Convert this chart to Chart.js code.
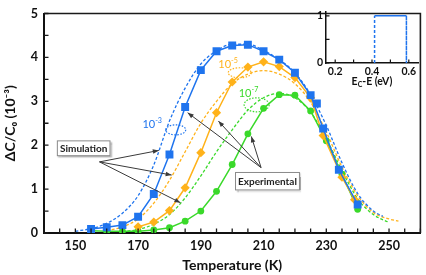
<!DOCTYPE html>
<html><head><meta charset="utf-8">
<script src="https://cdn.jsdelivr.net/npm/chart.js@4.4.0/dist/chart.umd.min.js"></script>
<style>
html,body{margin:0;padding:0;background:#fff;}
#wrap{position:relative;width:426px;height:275px;overflow:hidden;}
#main{position:absolute;left:0;top:0;}
#inset{position:absolute;left:298px;top:0;}
</style></head><body>
<div id="wrap"><canvas id="main" width="426" height="275"></canvas><canvas id="inset" width="126" height="92"></canvas></div>
<script>
// ---------- data ----------
const blueExpT   = [155,160,165,170,175,180,185,190,195,200,205,210,215,220,225,229,234,240];
const blueExp    = [0.09,0.13,0.18,0.37,0.89,1.79,2.87,3.71,4.14,4.27,4.29,4.14,3.95,3.65,3.14,2.38,1.44,0.65];
const blueExtraT = [227];
const blueExtra  = [2.95];
const orangeExpT = [170,175,180,185,190,195,200,205,210,215,220,225,229,235,239];
const orangeExp  = [0.14,0.25,0.51,1.03,1.83,2.74,3.44,3.78,3.90,3.79,3.54,3.08,2.22,1.27,0.76];
const greenExpT  = [155,160,165,170,175,180,185,190,195,200,205,210,215,220,225,230,235,240];
const greenExp   = [0.05,0.04,0.04,0.04,0.07,0.12,0.27,0.50,0.95,1.56,2.26,2.84,3.15,3.14,2.78,2.10,1.34,0.54];

const blueSimT   = [150,155,160,165,170,175,180,185,190,195,200,205,210,215,220,225,230,235,240,245,248];
const blueSim    = [0.04,0.10,0.22,0.45,0.85,1.55,2.55,3.30,3.85,4.15,4.30,4.30,4.16,3.95,3.65,3.15,2.45,1.60,0.90,0.50,0.38];
const orangeSimT = [160,165,170,175,180,185,190,195,200,205,210,215,220,225,230,235,240,245,250,253];
const orangeSim  = [0.05,0.14,0.32,0.68,1.20,1.85,2.50,3.00,3.40,3.62,3.70,3.62,3.40,2.98,2.30,1.50,0.85,0.47,0.32,0.27];
const greenSimT  = [165,170,175,180,185,190,195,200,205,210,215,220,225,230,235,240,245,250];
const greenSim   = [0.03,0.08,0.20,0.42,0.80,1.30,1.85,2.35,2.80,3.08,3.18,3.08,2.75,2.15,1.42,0.78,0.42,0.24];

const xTicks  = [140,145,150,155,160,165,170,175,180,185,190,195,200,205,210,215,220,225,230,235,240,245,250,255,260];
const xLabels = [150,170,190,210,230,250];
const yTicks  = [0,0.5,1,1.5,2,2.5,3,3.5,4,4.5,5];
const yLabels = [0,1,2,3,4,5];

// inset: trap-level distribution
const insetX = [0.414,0.414,0.587,0.587];
const insetY = [0,1,1,0];
const insetXTicks = [0.2,0.3,0.4,0.5,0.6];
const insetXLabels = [0.2,0.4,0.6];
const insetYTicks = [0,0.5,1];
const insetYLabels = [0,1];

// ---------- style ----------
const BLUE='#1f74ee', ORANGE='#ffb21a', GREEN='#3ad92a';
const FONT="Lato, 'DejaVu Sans', sans-serif";
const pts=(xs,ys)=>xs.map((x,i)=>({x:x,y:ys[i]}));

function expDs(label,xs,ys,color,style,r){
  return {label,data:pts(xs,ys),borderColor:color,backgroundColor:color,borderWidth:1.5,
    pointStyle:style,pointRadius:r,pointBorderWidth:0,tension:0,showLine:true};
}
function simDs(label,xs,ys,color){
  return {label,data:pts(xs,ys),borderColor:color,borderWidth:1.3,borderDash:[3,2],
    pointRadius:0,cubicInterpolationMode:'monotone',showLine:true};
}

function sup(ctx,base,exp,x,y,color,size){
  ctx.fillStyle=color; ctx.font=`${size}px ${FONT}`; ctx.textBaseline='middle'; ctx.textAlign='left';
  const w=ctx.measureText(base).width;
  const w2=(()=>{ctx.font=`${size*0.65}px ${FONT}`;return ctx.measureText(exp).width;})();
  const x0=x-(w+w2)/2;
  ctx.font=`${size}px ${FONT}`; ctx.fillText(base,x0,y);
  ctx.font=`${size*0.65}px ${FONT}`; ctx.fillText(exp,x0+w,y-size*0.35);
}
function arrow(ctx,x1,y1,x2,y2){
  ctx.beginPath(); ctx.moveTo(x1,y1); ctx.lineTo(x2,y2); ctx.stroke();
  const a=Math.atan2(y2-y1,x2-x1), L=6, W=2.3;
  ctx.beginPath();
  ctx.moveTo(x2,y2);
  ctx.lineTo(x2-L*Math.cos(a)+W*Math.sin(a), y2-L*Math.sin(a)-W*Math.cos(a));
  ctx.lineTo(x2-L*Math.cos(a)-W*Math.sin(a), y2-L*Math.sin(a)+W*Math.cos(a));
  ctx.closePath(); ctx.fill();
}
function labelBox(ctx,x1,y1,x2,y2,text){
  ctx.save();
  ctx.shadowColor='rgba(0,0,0,0.35)'; ctx.shadowOffsetX=1.5; ctx.shadowOffsetY=1.5; ctx.shadowBlur=1.5;
  ctx.fillStyle='#fff'; ctx.fillRect(x1,y1,x2-x1,y2-y1);
  ctx.restore();
  ctx.strokeStyle='#8a8a8a'; ctx.lineWidth=1; ctx.strokeRect(x1+0.5,y1+0.5,x2-x1-1,y2-y1-1);
  ctx.fillStyle='#222'; ctx.font=`bold 10px ${FONT}`; ctx.textAlign='center'; ctx.textBaseline='middle';
  ctx.fillText(text,(x1+x2)/2,(y1+y2)/2+0.5);
}

const mainDeco={id:'mainDeco',
  afterDatasetsDraw(chart){
    const {ctx,chartArea:a,scales:{x,y}}=chart;
    const X=v=>x.getPixelForValue(v), Y=v=>y.getPixelForValue(v);
    ctx.save();
    // ellipses + labels
    ctx.lineWidth=1.2; ctx.setLineDash([1.5,1.5]);
    [[182,2.35,10,5,BLUE],[202.4,3.65,11.5,5,ORANGE],[207.8,2.92,12.5,7,GREEN]].forEach(e=>{
      ctx.strokeStyle=e[4]; ctx.beginPath(); ctx.ellipse(X(e[0]),Y(e[1]),e[2],e[3],0,0,Math.PI*2); ctx.stroke();
    });
    ctx.setLineDash([]);
    sup(ctx,'10','-3',X(174.5),Y(2.47),BLUE,11);
    sup(ctx,'10','-5',X(198.7),Y(3.83),ORANGE,11);
    sup(ctx,'10','-7',X(205.2),Y(3.17),GREEN,11);
    // arrows
    ctx.strokeStyle='#3a3a3a'; ctx.fillStyle='#3a3a3a'; ctx.lineWidth=1;
    const so=[157.7,1.62];
    [[176.6,1.88],[180.7,1.32],[183.5,0.69]].forEach(t=>arrow(ctx,X(so[0]),Y(so[1]),X(t[0]),Y(t[1])));
    const eo=[209.2,1.49];
    [[185.8,2.74],[195.6,2.55],[206.1,2.20]].forEach(t=>arrow(ctx,X(eo[0]),Y(eo[1]),X(t[0]),Y(t[1])));
    // boxes
    labelBox(ctx,X(144.1),Y(2.11),X(161.2),Y(1.75),'Simulation');
    labelBox(ctx,X(200.9),Y(1.39),X(221.6),Y(0.97),'Experimental');
    // frame
    ctx.strokeStyle='#1a1a1a'; ctx.lineWidth=1.6;
    ctx.beginPath(); ctx.moveTo(a.left,a.top); ctx.lineTo(a.right,a.top); ctx.lineTo(a.right,a.bottom); ctx.stroke();
    // inward ticks
    ctx.lineWidth=1.3; ctx.beginPath();
    xTicks.forEach(v=>{const p=X(v); ctx.moveTo(p,a.bottom); ctx.lineTo(p,a.bottom-4.5);});
    yTicks.forEach(v=>{const p=Y(v); ctx.moveTo(a.left,p); ctx.lineTo(a.left+4.5,p);});
    ctx.stroke();
    ctx.restore();
  }};

new Chart(document.getElementById('main'),{
  type:'scatter',
  data:{datasets:[
    expDs('blue exp',blueExpT,blueExp,BLUE,'rect',5.6),
    {...expDs('blue exp extra',blueExtraT,blueExtra,BLUE,'rect',5.6),showLine:false},
    expDs('orange exp',orangeExpT,orangeExp,ORANGE,'rectRot',4.6),
    expDs('green exp',greenExpT,greenExp,GREEN,'circle',3.4),
    simDs('blue sim',blueSimT,blueSim,BLUE),
    simDs('orange sim',orangeSimT,orangeSim,ORANGE),
    simDs('green sim',greenSimT,greenSim,GREEN),
  ]},
  options:{
    responsive:false,animation:false,devicePixelRatio:1,
    layout:{padding:{top:5,right:2,left:0,bottom:0}},
    plugins:{legend:{display:false},tooltip:{enabled:false}},
    scales:{
      x:{type:'linear',min:140,max:260,
        afterBuildTicks:s=>{s.ticks=xTicks.map(v=>({value:v}));},
        afterFit:s=>{s.height=42;},
        grid:{display:false,drawTicks:false},
        border:{display:true,color:'#111',width:2},
        ticks:{padding:5,autoSkip:false,maxRotation:0,color:'#111',
          callback:v=>xLabels.includes(v)?String(v):'',
          font:{family:FONT,size:12.5,weight:'bold'}},
        title:{display:true,text:'Temperature (K)',color:'#111',
          font:{family:FONT,size:14,weight:'bold'},padding:{top:0,bottom:1}}
      },
      y:{type:'linear',min:0,max:5,
        afterBuildTicks:s=>{s.ticks=yTicks.map(v=>({value:v}));},
        afterFit:s=>{s.width=44;},
        grid:{display:false,drawTicks:false},
        border:{display:true,color:'#111',width:2},
        ticks:{padding:6,autoSkip:false,color:'#111',
          callback:v=>yLabels.includes(v)?String(v):'',
          font:{family:FONT,size:12.5,weight:'bold'}},
        title:{display:true,text:'ΔC/C₀ (10⁻³)',color:'#111',
          font:{family:FONT,size:14,weight:'bold'},padding:{top:2,bottom:0}}
      }
    }
  },
  plugins:[mainDeco]
});

const insetDeco={id:'insetDeco',
  afterDraw(chart){
    const {ctx,chartArea:a,scales:{x,y}}=chart;
    ctx.save();
    ctx.strokeStyle='#111'; ctx.lineWidth=1.2; ctx.beginPath();
    insetXTicks.forEach(v=>{const p=x.getPixelForValue(v); ctx.moveTo(p,a.bottom); ctx.lineTo(p,a.bottom-3.5);});
    insetYTicks.forEach(v=>{const p=y.getPixelForValue(v); ctx.moveTo(a.left,p); ctx.lineTo(a.left+3.5,p);});
    ctx.stroke();
    // x title E_C-E (eV)
    ctx.fillStyle='#111'; ctx.textBaseline='middle'; ctx.textAlign='left';
    const f=`bold 10.5px ${FONT}`, fs=`bold 7px ${FONT}`;
    ctx.font=f; const w1=ctx.measureText('E').width, w3=ctx.measureText('-E (eV)').width;
    ctx.font=fs; const w2=ctx.measureText('C').width;
    const cx=(a.left+a.right)/2, yy=a.bottom+18.5, x0=cx-(w1+w2+w3)/2;
    ctx.font=f; ctx.fillText('E',x0,yy);
    ctx.font=fs; ctx.fillText('C',x0+w1,yy+3);
    ctx.font=f; ctx.fillText('-E (eV)',x0+w1+w2,yy);
    ctx.restore();
  }};

new Chart(document.getElementById('inset'),{
  type:'scatter',
  data:{datasets:[{label:'trap distribution',data:pts(insetX,insetY),borderColor:BLUE,borderWidth:1.5,
    pointRadius:0,showLine:true,tension:0,
    segment:{borderDash:c=>c.p0DataIndex===1?[]:[3,2]}}]},
  options:{
    responsive:false,animation:false,devicePixelRatio:1,
    layout:{padding:{top:12,right:6,left:0,bottom:0}},
    plugins:{legend:{display:false},tooltip:{enabled:false}},
    scales:{
      x:{type:'linear',min:0.15,max:0.65,
        afterBuildTicks:s=>{s.ticks=insetXTicks.map(v=>({value:v}));},
        afterFit:s=>{s.height=29;},
        grid:{display:false,drawTicks:false},
        border:{display:true,color:'#111',width:1.5},
        ticks:{padding:2,autoSkip:false,maxRotation:0,color:'#111',
          callback:v=>insetXLabels.some(l=>Math.abs(l-v)<1e-6)?v.toFixed(1):'',
          font:{family:FONT,size:10.5,weight:'bold'}}
      },
      y:{type:'linear',min:0,max:1.08,
        afterBuildTicks:s=>{s.ticks=insetYTicks.map(v=>({value:v}));},
        afterFit:s=>{s.width=28;},
        grid:{display:false,drawTicks:false},
        border:{display:true,color:'#111',width:1.5},
        ticks:{padding:3,autoSkip:false,color:'#111',
          callback:v=>insetYLabels.includes(v)?String(v):'',
          font:{family:FONT,size:10.5,weight:'bold'}}
      }
    }
  },
  plugins:[insetDeco]
});
</script>
</body></html>
